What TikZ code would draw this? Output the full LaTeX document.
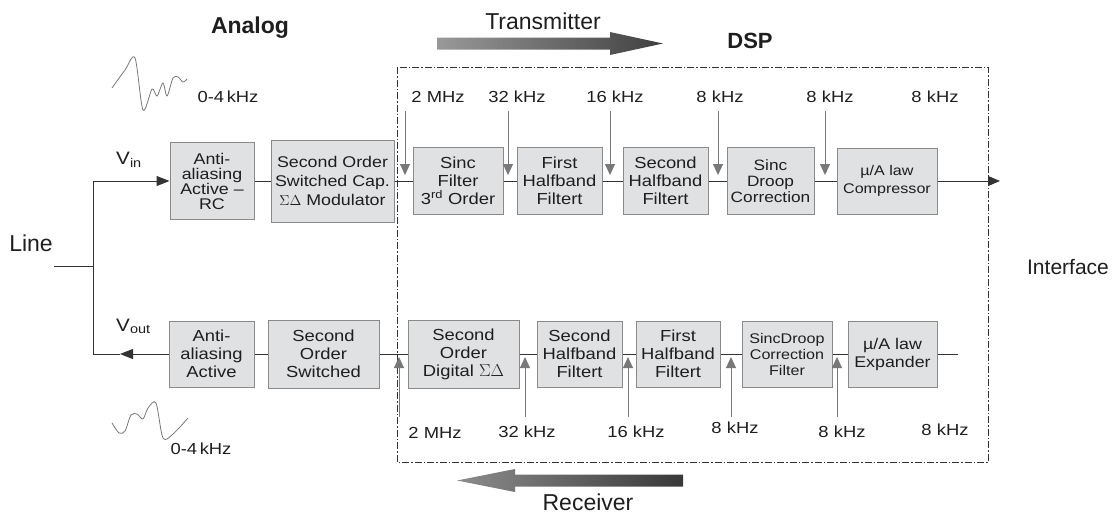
\documentclass[tikz,border=0pt]{standalone}
\usepackage{fontspec}
\setmainfont{Liberation Sans}
\newfontfamily\boxfont{Liberation Sans}[FakeStretch=1.15,Ligatures=TeX]
\usetikzlibrary{arrows.meta}

\definecolor{boxfill}{RGB}{224,225,227}
\definecolor{boxline}{RGB}{138,138,138}
\definecolor{wire}{RGB}{51,51,51}
\definecolor{clock}{RGB}{120,120,120}
\definecolor{txt}{RGB}{30,30,30}

\begin{document}
\begin{tikzpicture}[x=1pt,y=-1pt,
  blk/.style={draw=boxline, fill=boxfill, line width=1pt, inner sep=0pt, align=center, text=txt, font=\boxfont\fontsize{16}{18}\selectfont},
  sig/.style={draw=wire, line width=1pt},
  clk/.style={draw=clock, line width=1pt, -{Triangle[width=10pt,length=11pt]}},
  freq/.style={text=txt, anchor=base, inner sep=0pt, font=\boxfont\fontsize{16}{18}\selectfont},
  title/.style={text=txt, anchor=base, inner sep=0pt, font=\fontsize{22}{26}\selectfont},
  wave/.style={draw=clock, line width=0.8pt}]
  \useasboundingbox (0,0) rectangle (1114,515);

  \node[title, font=\bfseries\fontsize{23}{26}\selectfont] (analog) at (250,33) {Analog};
  \node[title, font=\bfseries\fontsize{22}{26}\selectfont] (dsp) at (750,48) {DSP};
  \node[title, font=\fontsize{23}{26}\selectfont] (tx) at (543,29) {Transmitter};
  \node[title, font=\fontsize{23}{26}\selectfont] (rx) at (588,510) {Receiver};
  \node[title, font=\fontsize{23}{26}\selectfont] (line) at (31,251) {Line};
  \node[title, font=\fontsize{21}{24}\selectfont] (iface) at (1068,274) {Interface};

  \shade[left color=black!40, right color=black!75] (437,37.5) -- (610,37.5) -- (610,32) -- (663,43.5) -- (610,55) -- (610,49.5) -- (437,49.5) -- cycle;
  \shade[left color=black!45, right color=black!78] (457,480.5) -- (515,469) -- (515,474.5) -- (683,474.5) -- (683,486.5) -- (515,486.5) -- (515,492) -- cycle;

  \draw[wire, line width=1pt, dash pattern=on 7pt off 2pt on 1.5pt off 2pt] (397,67) rectangle (988,462);

  \draw[wave] plot[smooth, tension=0.5] coordinates {(112,88) (125,70) (135,58) (143,110) (152,89) (157,96) (163,83) (167,96) (173,78) (178,77) (183,82) (187,79)};
  \draw[wave] plot[smooth, tension=0.5] coordinates {(112,423) (119,433) (125,431) (131,415) (137,414) (143,419) (148,408) (156,403) (163,438) (173,434) (188,418)};
  \node[freq] (bandu) at (228,102) {0-4\,kHz};
  \node[freq] (bandl) at (201,454) {0-4\,kHz};

  \node[blk, minimum width=84, minimum height=77, font=\boxfont\fontsize{15.5}{15}\selectfont] (aa1) at (212,181) {Anti-\\aliasing\\Active –\\RC};
  \node[blk, minimum width=123, minimum height=82, font=\boxfont\fontsize{15.5}{19}\selectfont] (sd1) at (332.5,181) {Second Order\\Switched Cap.\\$\Sigma\Delta$ Modulator};
  \node[blk, minimum width=90, minimum height=67] (sinc1) at (458,181) {Sinc\\Filter\\3\textsuperscript{rd} Order};
  \node[blk, minimum width=85, minimum height=67] (hb1) at (559.5,181) {First\\Halfband\\Filtert};
  \node[blk, minimum width=85, minimum height=67] (hb2) at (665.5,181) {Second\\Halfband\\Filtert};
  \node[blk, minimum width=87, minimum height=67, font=\boxfont\fontsize{15}{16}\selectfont] (dr1) at (770.5,181) {Sinc\\Droop\\Correction};
  \node[blk, minimum width=100, minimum height=66, font=\boxfont\fontsize{14}{18}\selectfont] (comp) at (887,181) {µ/A law\\Compressor};

  \node[blk, minimum width=85, minimum height=66] (aa2) at (211.5,354) {Anti-\\aliasing\\Active};
  \node[blk, minimum width=111, minimum height=68] (sw2) at (323.5,354) {Second\\Order\\Switched};
  \node[blk, minimum width=111, minimum height=68] (dsd) at (463.5,354) {Second\\Order\\Digital $\Sigma\Delta$};
  \node[blk, minimum width=85, minimum height=66] (hb2r) at (579.5,354) {Second\\Halfband\\Filtert};
  \node[blk, minimum width=84, minimum height=66] (hb1r) at (678,354) {First\\Halfband\\Filtert};
  \node[blk, minimum width=90, minimum height=66, font=\boxfont\fontsize{14}{16}\selectfont] (drr) at (787,354) {SincDroop\\Correction\\Filter};
  \node[blk, minimum width=89, minimum height=66, font=\boxfont\fontsize{15.5}{18}\selectfont] (exp) at (892.5,354) {µ/A law\\Expander};

  \node[freq, anchor=base west, font=\boxfont\fontsize{18}{20}\selectfont] (vin) at (116,164) {V\textsubscript{in}};
  \node[freq, anchor=base west, font=\boxfont\fontsize{18}{20}\selectfont] (vout) at (116,331) {V\textsubscript{out}};

  \coordinate (jtop) at (93,181);
  \coordinate (jbot) at (93,354);
  \coordinate (jline) at (93,266);
  \coordinate (lstub) at (54,266);
  \coordinate (vmark) at (120,354);
  \coordinate (txout) at (1000,181);
  \coordinate (rxin) at (958,354);

  \draw[sig] (jtop) -- (jbot);
  \draw[sig] (lstub) -- (jline);
  \draw[sig, -{Triangle[width=10pt,length=13pt]}] (jtop) -- (aa1);
  \draw[sig, -{Triangle[width=10pt,length=13pt]}] (aa2) -- (vmark);
  \draw[sig] (vmark) -- (jbot);
  \foreach \a/\b in {aa1/sd1, sd1/sinc1, sinc1/hb1, hb1/hb2, hb2/dr1, dr1/comp}
    \draw[sig] (\a) -- (\b);
  \draw[sig, -{Triangle[width=10pt,length=12pt]}] (comp) -- (txout);
  \foreach \a/\b in {exp/drr, drr/hb1r, hb1r/hb2r, hb2r/dsd, dsd/sw2, sw2/aa2}
    \draw[sig] (\a) -- (\b);
  \draw[sig] (rxin) -- (exp);

  \foreach \x/\lx/\ftext [count=\i] in {405/438/2 MHz, 508/517/32 kHz, 610/615/16 kHz, 718/720/8 kHz, 825/830/8 kHz}{
    \node[freq] (fu\i) at (\lx,102) {\ftext};
    \coordinate (cu\i) at (\x,111);
    \draw[clk] (cu\i) -- ++(0,64);
  }
  \node[freq] (fu6) at (935,102) {8 kHz};

  \foreach \x/\lx/\by/\ftext [count=\i] in {399/435/438/2 MHz, 525/527/437/32 kHz, 628/636/437/16 kHz, 731/735/433/8 kHz, 837/842/437/8 kHz}{
    \node[freq] (fl\i) at (\lx,\by) {\ftext};
    \coordinate (cl\i) at (\x,417);
    \draw[clk] (cl\i) -- ++(0,-60);
  }
  \node[freq] (fl6) at (945,435) {8 kHz};
\end{tikzpicture}
\end{document}
